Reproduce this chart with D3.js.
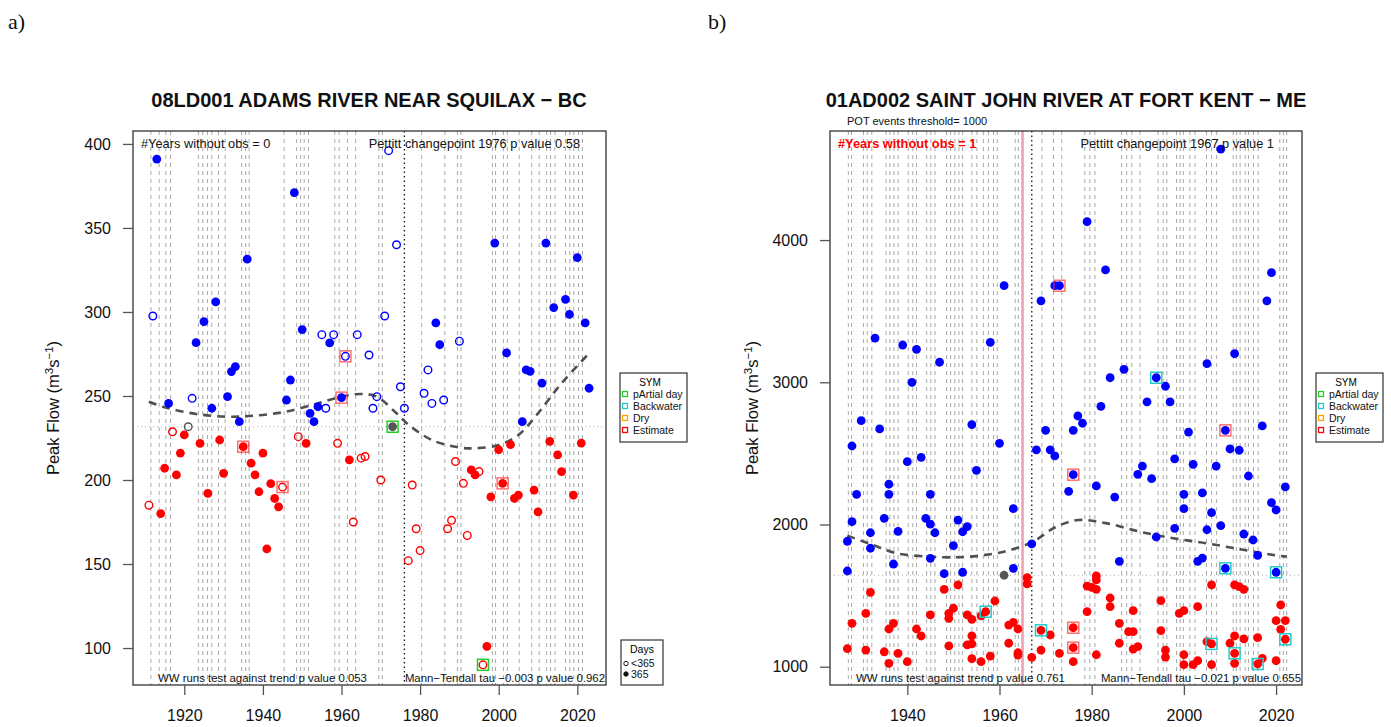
<!DOCTYPE html>
<html><head><meta charset="utf-8">
<script src="https://cdn.jsdelivr.net/npm/d3@7/dist/d3.min.js"></script>
<style>body{margin:0;background:#fff;} svg{display:block;font-family:"Liberation Sans",Arial,sans-serif;}</style>
</head><body><svg id="c" width="1391" height="727"></svg>
<script>
// ---------------- Panel a) 08LD001 ----------------
const leftYears = [1911,1912,1913,1914,1915,1916,1917,1918,1919,1920,1921,1922,1923,1924,1925,1926,1927,1928,1929,1930,
1931,1932,1933,1934,1935,1936,1937,1938,1939,1940,1941,1942,1943,1944,1945,1946,1947,1948,1949,1950,
1951,1952,1953,1954,1955,1956,1957,1958,1959,1960,1961,1962,1963,1964,1965,1966,1967,1968,1969,1970,
1971,1972,1973,1974,1975,1976,1977,1978,1979,1980,1981,1982,1983,1984,1985,1986,1987,1988,1989,1990,
1991,1992,1993,1994,1995,1996,1997,1998,1999,2000,2001,2002,2003,2004,2005,2006,2007,2008,2009,2010,
2011,2012,2013,2014,2015,2016,2017,2018,2019,2020,2021,2022,2023];
const leftFlow = [185,297.6,391,180,207,245.6,228.7,203,216,226.8,231.7,248.6,281.7,221.8,294.3,192,242.7,306,223.8,204,
249.6,264.5,267.5,234.7,219.8,331.4,210,203,193,216,159,197.8,189,184,195.8,247.6,259.5,371,225.8,289.5,
221.8,239.7,234.7,243.6,286.5,242.7,281.6,286.5,221.8,249,273.6,212,175,286.5,213,214,274.4,242.7,249.6,200,
297.6,396,231.7,340,255.5,242.7,152,197,171,158,251.6,265.5,245.6,293.5,280.5,247.6,171,176,211,282.6,
198,167,206,203,205,90,101,190,341,218,198,275.6,221,189,191,234.7,265.5,264.7,194,181,
257.6,341,223,302.6,215,205,307.5,298.6,191,332.4,222,293.5,254.6];
// 1 = 365 days of record, 0 = fewer than 365 days
const leftDays = [0,0,1,1,1,1,0,1,1,1,0,0,1,1,1,1,1,1,1,1,
1,1,1,1,1,1,1,1,1,1,1,1,1,1,0,1,1,1,0,1,
1,1,1,1,0,0,1,0,0,1,0,1,0,0,0,0,0,0,0,0,
0,0,1,0,0,0,0,0,0,0,0,0,0,1,1,0,0,0,0,0,
0,0,1,1,0,0,1,1,1,1,1,1,1,1,1,1,1,1,1,1,
1,1,1,1,1,1,1,1,1,1,1,1,1];
const leftEstimateYears = [1935,1945,1960,1961,2001];
const leftPartialYears = [1973,1996];
const leftMedian = 231.7;
const leftPettittYear = 1976;
const leftTrendYears = [1911,1915,1923,1931,1938,1946,1954,1960,1965,1969,1974,1977,1983,1990,1994,2000,2005,2010,2016,2023];
const leftTrendFlow = [246.6,243.3,239.3,237.7,238.3,240.7,245.6,249.6,251.2,249.6,239.7,233,223.8,219.3,218.9,220.8,226.8,239.7,257.6,275.4];
const leftFlagYears = [1911.5,1913.6,1915.3,1916.5,1923.6,1924.7,1925.9,1927.0,1928.7,1930.4,1934.6,1935.6,1936.5,1945.4,
1948.6,1949.6,1950.5,1951.6,1958.3,1959.4,1961.5,1963.6,1969.5,1970.4,1980.4,1986.3,1989.5,1990.4,1998.4,1999.2,
2001.2,2002.2,2005.2,2008.4,2010.3,2012.2,2013.2,2014.3,2017.0,2018.1,2019.1,2020.3,2021.3];
const leftYTicks = [100,150,200,250,300,350,400];
const leftXTicks = [1920,1940,1960,1980,2000,2020];

// ---------------- Panel b) 01AD002 ----------------
const rightYears = [1927,1927,1927,1928,1928,1928,1929,1930,1931,1931,1932,1932,1932,1933,1934,1935,1935,1936,1936,1936,
1936,1937,1937,1938,1938,1939,1940,1940,1941,1942,1942,1943,1943,1944,1945,1945,1945,1945,1946,1947,
1948,1948,1949,1949,1949,1950,1950,1951,1951,1952,1952,1953,1953,1953,1954,1954,1954,1954,1954,1955,
1956,1956,1957,1958,1958,1959,1960,1961,1961,1962,1962,1963,1963,1963,1964,1964,1964,1966,1966,1967,
1967,1968,1969,1969,1969,1970,1971,1971,1972,1972,1973,1973,1975,1976,1976,1976,1976,1976,1977,1978,
1979,1979,1979,1980,1981,1981,1981,1981,1981,1982,1983,1984,1984,1984,1985,1986,1986,1986,1987,1988,
1989,1989,1989,1990,1990,1991,1992,1993,1994,1994,1995,1995,1996,1996,1996,1997,1998,1998,1999,2000,
2000,2000,2000,2000,2001,2002,2002,2003,2003,2003,2004,2004,2005,2005,2005,2006,2006,2006,2006,2007,
2008,2008,2009,2009,2010,2010,2011,2011,2011,2011,2011,2012,2012,2013,2013,2013,2014,2015,2016,2016,
2016,2017,2017,2018,2019,2019,2020,2020,2020,2020,2021,2021,2022,2022,2022];
const rightFlow = [1882,1673,1127,2552,2020,1305,2212,2730,1375,1117,1942,1833,1523,3311,2672,2043,1105,2283,2212,1265,
1024,1722,1305,1952,1094,3262,2442,1035,3000,3232,1265,2472,1216,2043,2212,2003,1762,1364,1942,3141,
1654,1544,1375,1340,1146,1851,1411,2031,1575,1949,1664,1985,1364,1153,2702,1333,1216,1160,1056,2381,
1357,1035,1387,3281,1075,1462,2571,3679,1643,1293,1165,2111,1692,1312,1265,1098,1082,1626,1582,1863,
1066,2524,3572,1256,1117,2662,2524,1223,3679,2482,3679,1094,2233,2662,2350,1274,1134,1035,2763,2712,
4129,1567,1387,1558,2271,1638,1610,1544,1084,2831,3790,3032,1483,1422,2193,1741,1305,1165,3091,1246,
1394,1246,1124,2353,1141,2411,2862,2322,3032,1912,1464,1253,2972,1117,1068,2862,2461,1973,1375,2212,
2111,1394,1084,1014,2650,2423,1014,1741,1422,1042,2222,1764,3131,1963,1176,2083,1575,1160,1014,2411,
4640,1992,2662,1692,2531,1165,3201,1575,1216,1094,1024,2522,1563,1933,1544,1195,2341,1891,1783,1204,
1019,2693,1059,3572,3771,2153,2102,1664,1324,1042,1434,1263,2264,1324,1193];
// SYM code per point: "" none, "E" estimate, "B" backwater
const rightSym = ["","","","","","","","","","","","","","","","","","","","",
"","","","","","","","","","","","","","","","","","","","",
"","","","","","","","","","","","","","","","","","","","",
"","","B","","","","","","","","","","","","","","","","","",
"","","","B","","","","","","","E","","","","E","E","E","","","",
"","","","","","","","","","","","","","","","","","","","",
"","","","","","","","","B","","","","","","","","","","","",
"","","","","","","","","","","","","","","","","","B","","",
"","","E","B","","","","","","B","","","","","","","","","","",
"B","","","","","","","B","","","","","","","B"];
const rightDays = rightYears.map(() => 1);
const rightMedian = 1643;
const rightPettittYear = 1967;
const rightGapYear = 1965;
const rightTrendYears = [1927,1932,1937.7,1945,1950,1955.8,1961.6,1967.3,1971,1973.1,1977.1,1983.3,1990.5,1997.7,2004.9,2012.2,2019.4,2022.3];
const rightTrendFlow = [1921,1863,1797,1774,1769,1781,1814,1879,1961,1996,2032,2008,1949,1903,1868,1826,1786,1774];
const rightFlagYears = [1927.2,1927.9,1930.5,1931.3,1932.3,1935.4,1936.2,1937.1,1938.0,1940.2,1941.2,1942.0,1944.2,1945.1,
1946.0,1948.5,1949.4,1950.3,1951.2,1952.0,1954.0,1955.1,1956.5,1957.6,1958.7,1959.5,1963.4,1964.1,1969.2,1971.7,1973.5,
1978.5,1979.6,1980.7,1986.5,1987.6,1988.7,1990.5,1994.4,1995.5,1996.3,1998.4,1999.2,1999.9,2001.3,2002.4,2004.9,2006.0,
2007.1,2010.7,2011.4,2012.2,2013.3,2014.0,2015.1,2016.1,2020.8,2021.6,2022.3];
const rightYTicks = [1000,2000,3000,4000];
const rightXTicks = [1940,1960,1980,2000,2020];

const symLabels = ["pArtial day","Backwater","Dry","Estimate"];
const symColors = ["#22cc22","#22cccc","#ffa500","#ff0000"];

const svg = d3.select("#c");
const BLUE = "#0000ff", RED = "#ff0000", GREY = "#555555";

function panel(o) {
  const g = svg.append("g");
  const x = d3.scaleLinear().domain(o.xDomain).range([o.left, o.right]);
  const y = d3.scaleLinear().domain(o.yDomain).range([o.bottom, o.top]);
  const clip = "clip" + o.id;
  svg.append("clipPath").attr("id", clip).append("rect")
    .attr("x", o.left).attr("y", o.top).attr("width", o.right - o.left).attr("height", o.bottom - o.top);
  const inner = g.append("g").attr("clip-path", `url(#${clip})`);

  // year flag dashed verticals
  inner.selectAll(".flag").data(o.flagYears).join("line")
    .attr("x1", d => x(d)).attr("x2", d => x(d)).attr("y1", o.top).attr("y2", o.bottom)
    .attr("stroke", "#a8a8a8").attr("stroke-width", 1).attr("stroke-dasharray", "4,4");

  // median horizontal
  inner.append("line").attr("x1", o.left).attr("x2", o.right)
    .attr("y1", y(o.median)).attr("y2", y(o.median))
    .attr("stroke", "#b0b0b0").attr("stroke-width", 1).attr("stroke-dasharray", "1,3");

  if (o.gapYear) {
    inner.append("line").attr("x1", x(o.gapYear)).attr("x2", x(o.gapYear))
      .attr("y1", o.top).attr("y2", o.bottom).attr("stroke", "#eea0ae").attr("stroke-width", 2.5);
  }
  // pettitt
  inner.append("line").attr("x1", x(o.pettitt)).attr("x2", x(o.pettitt))
    .attr("y1", o.top).attr("y2", o.bottom)
    .attr("stroke", "#111").attr("stroke-width", 1.3).attr("stroke-dasharray", "1.5,3");

  // trend
  const line = d3.line().x(d => x(d[0])).y(d => y(d[1])).curve(d3.curveCatmullRom.alpha(0.5));
  inner.append("path").datum(o.trendYears.map((t, i) => [t, o.trendFlow[i]]))
    .attr("d", line).attr("fill", "none").attr("stroke", "#505050")
    .attr("stroke-width", 2.6).attr("stroke-dasharray", "8,6");

  const pts = o.years.map((yr, i) => ({yr, v: o.flow[i], full: o.days[i], sym: o.sym[i]}));
  const col = d => d.v > o.median ? BLUE : (d.v < o.median ? RED : GREY);

  // points
  inner.selectAll(".pt").data(pts).join("circle")
    .attr("cx", d => x(d.yr)).attr("cy", d => y(d.v))
    .attr("r", d => d.full ? o.r : o.r - 0.6)
    .attr("fill", d => d.full ? col(d) : "none")
    .attr("stroke", d => col(d)).attr("stroke-width", d => d.full ? 0 : 1.4);

  // symbol squares
  const symCol = {A: "#22cc22", B: "#22cccc", D: "#ffa500", E: "#ff3030"};
  const sq = pts.filter(d => d.sym);
  inner.selectAll(".sq").data(sq).join("rect")
    .attr("x", d => x(d.yr) - 5.5).attr("y", d => y(d.v) - 5.5).attr("width", 11).attr("height", 11)
    .attr("fill", "none").attr("stroke", d => symCol[d.sym]).attr("stroke-opacity", d => d.sym === "E" ? 0.7 : 1)
    .attr("stroke-width", 1.5);

  // box
  g.append("rect").attr("x", o.left).attr("y", o.top).attr("width", o.right - o.left).attr("height", o.bottom - o.top)
    .attr("fill", "none").attr("stroke", "#333").attr("stroke-width", 1.3);

  // axes
  const ax = g.append("g").attr("transform", `translate(0,${o.bottom})`)
    .call(d3.axisBottom(x).tickValues(o.xTicks).tickFormat(d3.format("d")).tickSize(10).tickPadding(15));
  const ay = g.append("g").attr("transform", `translate(${o.left},0)`)
    .call(d3.axisLeft(y).tickValues(o.yTicks).tickFormat(d3.format("d")).tickSize(10).tickPadding(12));
  [ax, ay].forEach(a => {
    a.select(".domain").remove();
    a.selectAll(".tick line").attr("stroke", "#555").attr("stroke-width", 1.3);
    a.selectAll(".tick text").attr("font-size", 16).attr("fill", "#111")
      .attr("font-family", '"Liberation Sans",Arial,sans-serif');
  });

  // title
  svg.append("text").attr("x", o.titleX).attr("y", 107).attr("text-anchor", "middle")
    .attr("font-size", 20).attr("font-weight", "bold").attr("fill", "#111").text(o.title);

  // y label
  const yl = svg.append("text").attr("transform", `translate(${o.ylabX},408) rotate(-90)`)
    .attr("text-anchor", "middle").attr("font-size", 16.5).attr("fill", "#111");
  yl.append("tspan").text("Peak Flow (m");
  yl.append("tspan").attr("font-size", 11.5).attr("dy", -6).text("3");
  yl.append("tspan").attr("dy", 6).text("s");
  yl.append("tspan").attr("font-size", 11.5).attr("dy", -6).text("\u22121");
  yl.append("tspan").attr("dy", 6).text(")");

  // inner texts
  const t = (xx, yy, s, anchor, fs, extra) => {
    const e = svg.append("text").attr("x", xx).attr("y", yy).attr("text-anchor", anchor)
      .attr("font-size", fs).attr("fill", "#111").text(s);
    if (extra) extra(e);
    return e;
  };
  t(o.left + 8, 147.5, o.yearsText, "start", 12.8,
    o.id === "R" ? e => e.attr("fill", "#ff0000").attr("font-weight", "bold") : null);
  t(o.pettittTextEnd, 147.5, o.pettittText, "end", 12.8);
  t(o.wwStart, 682, o.wwText, "start", 11.4);
  t(o.right - 1, 682, o.mkText, "end", 11.4);

  // SYM legend
  const lg = svg.append("g").attr("transform", `translate(${o.right + 14},373)`);
  lg.append("rect").attr("width", 67).attr("height", 69).attr("fill", "#fff").attr("stroke", "#333").attr("stroke-width", 1.2);
  lg.append("text").attr("x", 30).attr("y", 12.5).attr("text-anchor", "middle").attr("font-size", 10).text("SYM");
  symLabels.forEach((s, i) => {
    lg.append("rect").attr("x", 2.5).attr("y", 18.5 + i * 12).attr("width", 5).attr("height", 5)
      .attr("fill", "none").attr("stroke", symColors[i]).attr("stroke-width", 1.3);
    lg.append("text").attr("x", 13).attr("y", 25 + i * 12).attr("font-size", 10.5).attr("fill", "#111").text(s);
  });
}

panel({
  id: "L", left: 133, right: 606, top: 131, bottom: 685,
  xDomain: [1906.95, 2027.3], yDomain: [78, 407.7], r: 4.4,
  years: leftYears, flow: leftFlow, days: leftDays,
  sym: leftYears.map(yy => leftEstimateYears.includes(yy) ? "E" : (leftPartialYears.includes(yy) ? "A" : "")),
  median: leftMedian, pettitt: leftPettittYear, trendYears: leftTrendYears, trendFlow: leftTrendFlow,
  flagYears: leftFlagYears, xTicks: leftXTicks, yTicks: leftYTicks,
  title: "08LD001 ADAMS RIVER NEAR SQUILAX \u2212 BC", titleX: 369, ylabX: 59,
  yearsText: "#Years without obs = 0", pettittText: "Pettitt changepoint 1976 p value 0.58", pettittTextEnd: 580,
  wwStart: 158, wwText: "WW runs test against trend p value 0.053", mkText: "Mann\u2212Tendall tau \u22120.003 p value 0.962"
});

panel({
  id: "R", left: 830, right: 1302, top: 131, bottom: 685,
  xDomain: [1923.23, 2025.62], yDomain: [871.3, 4767], r: 4.4,
  years: rightYears, flow: rightFlow, days: rightDays, sym: rightSym,
  median: rightMedian, pettitt: rightPettittYear, gapYear: rightGapYear,
  trendYears: rightTrendYears, trendFlow: rightTrendFlow,
  flagYears: rightFlagYears, xTicks: rightXTicks, yTicks: rightYTicks,
  title: "01AD002 SAINT JOHN RIVER AT FORT KENT \u2212 ME", titleX: 1066, ylabX: 758,
  yearsText: "#Years without obs = 1", pettittText: "Pettitt changepoint 1967 p value 1", pettittTextEnd: 1274,
  wwStart: 856, wwText: "WW runs test against trend p value 0.761", mkText: "Mann\u2212Tendall tau \u22120.021 p value 0.655"
});

// POT threshold text
svg.append("text").attr("x", 847).attr("y", 125).attr("font-size", 11).attr("fill", "#111").text("POT events threshold= 1000");

// Days legend (left panel)
const dl = svg.append("g").attr("transform", "translate(621,640)");
dl.append("rect").attr("width", 42).attr("height", 45).attr("fill", "#fff").attr("stroke", "#333").attr("stroke-width", 1.2);
dl.append("text").attr("x", 21).attr("y", 13).attr("text-anchor", "middle").attr("font-size", 10.5).text("Days");
const daysLabels = ["<365", "365"];
daysLabels.forEach((s, i) => {
  dl.append("circle").attr("cx", 5).attr("cy", 23.5 + i * 10.5).attr("r", 2.2)
    .attr("fill", i ? "#111" : "none").attr("stroke", "#111").attr("stroke-width", 1);
  dl.append("text").attr("x", 10).attr("y", 27 + i * 10.5).attr("font-size", 10.5).attr("fill", "#111").text(s);
});

// panel letters
svg.append("text").attr("x", 8).attr("y", 29).attr("font-family", '"Liberation Serif","Times New Roman",serif')
  .attr("font-size", 22).attr("fill", "#111").text("a)");
svg.append("text").attr("x", 708).attr("y", 29).attr("font-family", '"Liberation Serif","Times New Roman",serif')
  .attr("font-size", 22).attr("fill", "#111").text("b)");
</script></body></html>
